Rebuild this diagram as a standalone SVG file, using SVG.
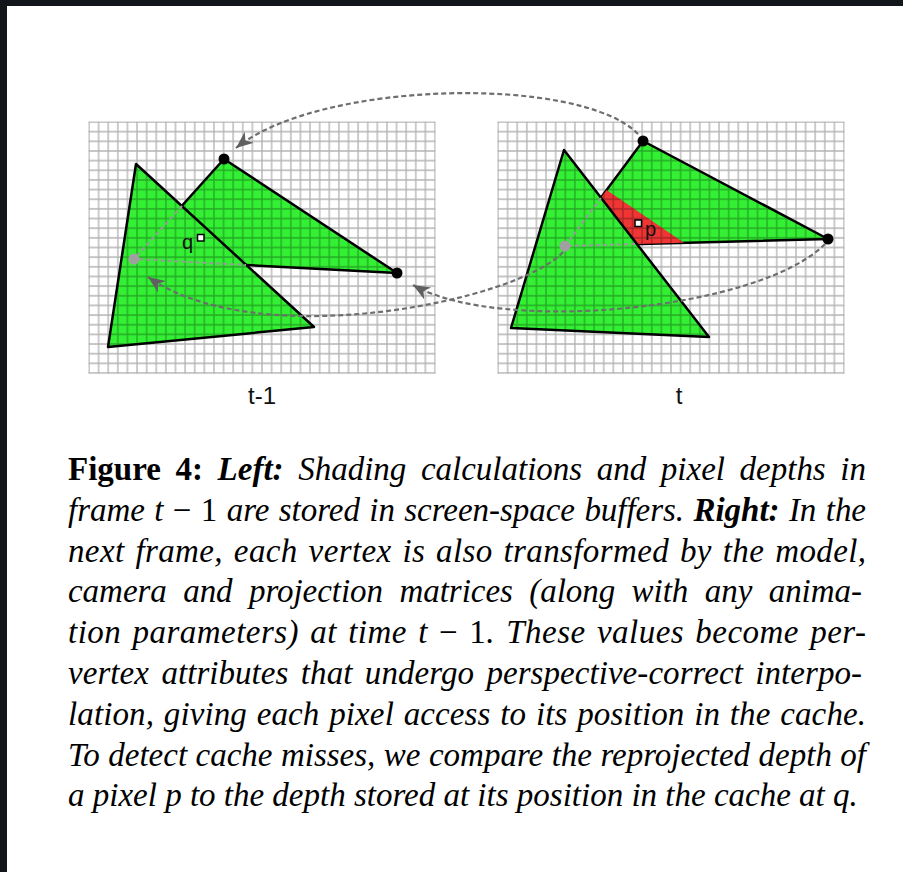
<svg xmlns="http://www.w3.org/2000/svg" width="903" height="872" viewBox="0 0 903 872">
<style>
.tri{fill:#34f034;stroke:#000;stroke-width:2.5;stroke-linejoin:round}
.red{fill:#f03535}
.hid{fill:none;stroke:#9a9a9a;stroke-width:2;stroke-dasharray:4 3}
.cur{fill:none;stroke:#6e6e6e;stroke-width:2.2;stroke-dasharray:5 3;marker-end:url(#ah)}
.vdot{fill:#000}
.gdot{fill:#a0a0a0}
.lab{font-family:"Liberation Sans",Arial,sans-serif;font-size:20px;fill:#111}
.flab{font-family:"Liberation Sans",Arial,sans-serif;font-size:24px;fill:#111;text-anchor:middle}
.sq{fill:#fff;stroke:#000;stroke-width:1.5}
.cap{font-family:"Liberation Serif","Times New Roman",serif;font-size:33px;fill:#000}
.i{font-style:italic}
.b{font-weight:bold}
.bi{font-weight:bold;font-style:italic}
</style>
<defs>
<pattern id="gridL" patternUnits="userSpaceOnUse" x="84.1945" y="117.173" width="9.611" height="9.654">
<path d="M4.8055,0V9.654M0,4.827H9.611" stroke="#000" stroke-opacity="0.3" stroke-width="1.3" fill="none"/>
</pattern>
<pattern id="gridR" patternUnits="userSpaceOnUse" x="493.1945" y="117.173" width="9.611" height="9.654">
<path d="M4.8055,0V9.654M0,4.827H9.611" stroke="#000" stroke-opacity="0.3" stroke-width="1.3" fill="none"/>
</pattern>
<marker id="ah" markerUnits="userSpaceOnUse" markerWidth="18" markerHeight="15" refX="17" refY="7" orient="auto" viewBox="0 0 18 15">
<path d="M17,7 L0,0 L5,7 L0,14 z" fill="#606060"/>
</marker>
</defs>
<rect x="0" y="0" width="903" height="872" fill="#fff"/>
<rect x="0" y="0" width="903" height="6" fill="#121519"/>
<rect x="0" y="0" width="7" height="872" fill="#121519"/>

<g id="frame-prev">
<polygon class="tri" points="224,159 397,273 134,259"/>
<polygon class="tri" points="136,164 108,347 314,327"/>
<rect x="88.4" y="121.5" width="347.2" height="252.3" fill="url(#gridL)"/>
<path class="hid" d="M182,206 L134,259 L246,265"/>
<circle class="gdot" cx="134" cy="259" r="5.5"/>
<circle class="vdot" cx="224" cy="159" r="5.5"/>
<circle class="vdot" cx="397" cy="273" r="5.5"/>
<text class="lab" x="182" y="249">q</text>
<rect class="sq" x="197.5" y="234.5" width="6.5" height="6.5"/>
<text class="flab" x="262" y="404">t-1</text>
</g>

<g id="frame-cur">
<polygon class="tri" points="643,141 828,239 565,246"/>
<polygon class="red" points="606.6,190 684,242.8 637,244.1 600.9,197.6"/>
<polygon class="tri" points="564,150 511,328 709,337"/>
<rect x="497.4" y="121.5" width="347.2" height="252.3" fill="url(#gridR)"/>
<path class="hid" d="M601,198 L565,246 L637,244"/>
<circle class="gdot" cx="565" cy="246" r="5.5"/>
<circle class="vdot" cx="643" cy="141" r="5.5"/>
<circle class="vdot" cx="828" cy="239" r="5.5"/>
<rect class="sq" x="635" y="220" width="6.5" height="6.5"/>
<text class="lab" x="645" y="236">p</text>
<text class="flab" x="679" y="404">t</text>
</g>

<g id="connectors">
<path class="cur" d="M638,134 C580,75 320,80 236,148"/>
<path class="cur" d="M825,244 C760,310 500,335 413,285"/>
<path class="cur" d="M563,252 C520,300 260,355 148,277"/>
</g>

<g id="caption" class="cap">
<text x="68" y="480" word-spacing="6.4" textLength="798" lengthAdjust="spacing"><tspan class="b">Figure 4: </tspan><tspan class="bi">Left:</tspan><tspan class="i"> Shading calculations and pixel depths in</tspan></text>
<text x="68" y="520.8" word-spacing="1.2" textLength="798" lengthAdjust="spacing"><tspan class="i">frame t </tspan><tspan>− 1</tspan><tspan class="i"> are stored in screen-space buffers. </tspan><tspan class="bi">Right:</tspan><tspan class="i"> In the</tspan></text>
<text x="68" y="561.6" word-spacing="2.3" textLength="798" lengthAdjust="spacing" class="i">next frame, each vertex is also transformed by the model,</text>
<text x="68" y="602.4" word-spacing="8.2" textLength="794" lengthAdjust="spacing" class="i">camera and projection matrices (along with any anima-</text>
<text x="68" y="643.2" word-spacing="2.5" textLength="798" lengthAdjust="spacing"><tspan class="i">tion parameters) at time t </tspan><tspan>− 1</tspan><tspan class="i">. These values become per-</tspan></text>
<text x="68" y="684" word-spacing="4.1" textLength="794" lengthAdjust="spacing" class="i">vertex attributes that undergo perspective-correct interpo-</text>
<text x="68" y="724.8" word-spacing="1.4" textLength="798" lengthAdjust="spacing" class="i">lation, giving each pixel access to its position in the cache.</text>
<text x="68" y="765.6" word-spacing="0.2" textLength="798" lengthAdjust="spacing" class="i">To detect cache misses, we compare the reprojected depth of</text>
<text x="68" y="806.4" class="i">a pixel p to the depth stored at its position in the cache at q.</text>
</g>
</svg>
